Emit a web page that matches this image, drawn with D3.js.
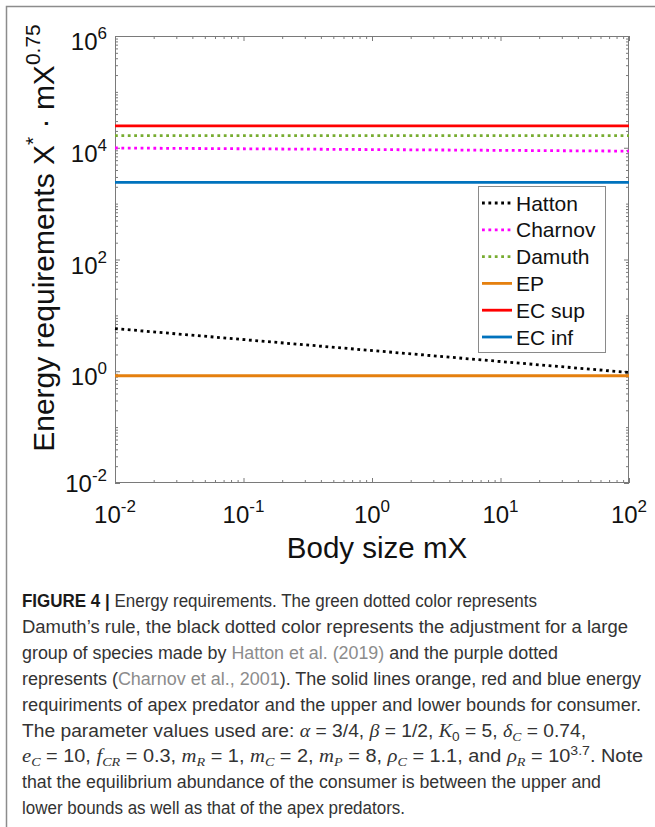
<!DOCTYPE html>
<html>
<head>
<meta charset="utf-8">
<script src="https://cdn.jsdelivr.net/npm/d3@7"></script>
<style>
  html, body { margin: 0; padding: 0; background: #fff; }
  svg { display: block; }
</style>
</head>
<body>
<svg id="chart" width="655" height="827"></svg>
<script>
// ---------------- data ----------------
const xEnds = [0.01, 100];                 // body size mX at both ends
const hattonVals  = [5.8, 0.95];
const charnovVals = [9900, 8700];
const damuthVals  = [16500, 16500];
const epVals      = [0.83, 0.83];
const ecSupVals   = [24700, 24700];
const ecInfVals   = [2400, 2400];

const seriesNames  = ["Hatton", "Charnov", "Damuth", "EP", "EC sup", "EC inf"];
const seriesColors = ["#000000", "#ff00ff", "#77ac30", "#e5800f", "#ff0000", "#0072bd"];
const seriesDotted = [true, true, true, false, false, false];
const seriesValues = [hattonVals, charnovVals, damuthVals, epVals, ecSupVals, ecInfVals];

const xTickVals = [1e-2, 1e-1, 1e0, 1e1, 1e2];
const xTickExp  = ["-2", "-1", "0", "1", "2"];
const yTickVals = [1e-2, 1e0, 1e2, 1e4, 1e6];
const yTickExp  = ["-2", "0", "2", "4", "6"];

// ---------------- layout ----------------
const svg = d3.select("#chart");
const L = 115, R = 629, T = 36, B = 483;
const x = d3.scaleLog().domain([1e-2, 1e2]).range([L, R]);
const y = d3.scaleLog().domain([1e-2, 1e6]).range([B, T]);
const axisColor = "#7a7a7a";
const font = "'Liberation Sans', Arial, Helvetica, sans-serif";

// page frame
svg.append("path").attr("d", "M6.5,827 L6.5,6.5 L655,6.5")
  .attr("fill", "none").attr("stroke", "#8c8c8c").attr("stroke-width", 1.5);

// minor tick values
const minorX = [], minorY = [];
for (let e = -2; e < 2; e++) for (let k = 2; k <= 9; k++) minorX.push(k * Math.pow(10, e));
for (let e = -2; e < 6; e++) for (let k = 2; k <= 9; k++) minorY.push(k * Math.pow(10, e));
const oddDecY = [1e-1, 1e1, 1e3, 1e5];
const minorYAll = minorY.concat(oddDecY);

function styleAxis(g) {
  g.select(".domain").remove();
  g.selectAll(".tick line").attr("stroke", axisColor).attr("stroke-width", 1);
  g.selectAll(".tick text").remove();
}
svg.append("g").attr("transform", `translate(0,${B})`)
  .call(d3.axisBottom(x).tickValues(xTickVals).tickSize(-5).tickFormat("")).call(styleAxis);
svg.append("g").attr("transform", `translate(0,${B})`)
  .call(d3.axisBottom(x).tickValues(minorX).tickSize(-3).tickFormat("")).call(styleAxis);
svg.append("g").attr("transform", `translate(0,${T})`)
  .call(d3.axisTop(x).tickValues(xTickVals).tickSize(-5).tickFormat("")).call(styleAxis);
svg.append("g").attr("transform", `translate(0,${T})`)
  .call(d3.axisTop(x).tickValues(minorX).tickSize(-3).tickFormat("")).call(styleAxis);
svg.append("g").attr("transform", `translate(${L},0)`)
  .call(d3.axisLeft(y).tickValues(yTickVals).tickSize(-5).tickFormat("")).call(styleAxis);
svg.append("g").attr("transform", `translate(${L},0)`)
  .call(d3.axisLeft(y).tickValues(minorYAll).tickSize(-3).tickFormat("")).call(styleAxis);
svg.append("g").attr("transform", `translate(${R},0)`)
  .call(d3.axisRight(y).tickValues(yTickVals).tickSize(-5).tickFormat("")).call(styleAxis);
svg.append("g").attr("transform", `translate(${R},0)`)
  .call(d3.axisRight(y).tickValues(minorYAll).tickSize(-3).tickFormat("")).call(styleAxis);

svg.append("rect").attr("x", L + 0.5).attr("y", T + 0.5)
  .attr("width", R - L - 1).attr("height", B - T - 1)
  .attr("fill", "none").attr("stroke", axisColor).attr("stroke-width", 1);

// series lines
const line = d3.line().x(d => x(d[0])).y(d => y(d[1]));
const plotG = svg.append("g");
seriesValues.forEach((vals, i) => {
  const pts = xEnds.map((xv, j) => [xv, vals[j]]);
  plotG.append("path").datum(pts).attr("d", line)
    .attr("fill", "none").attr("stroke", seriesColors[i])
    .attr("stroke-width", 2.8)
    .attr("stroke-dasharray", seriesDotted[i] ? "2.8,3.6" : null);
});
plotG.selectAll("path").filter((d, i) => !seriesDotted[i]).raise();

// tick labels
const xl = svg.append("g").attr("font-family", font).attr("fill", "#111");
xTickVals.forEach((v, i) => {
  const t = xl.append("text").attr("x", x(v)).attr("y", B + 40)
    .attr("text-anchor", "middle").attr("font-size", 24);
  t.append("tspan").text("10");
  t.append("tspan").attr("font-size", 17).attr("dy", -11).text(xTickExp[i]);
});
yTickVals.forEach((v, i) => {
  const t = xl.append("text").attr("x", L - 8).attr("y", y(v) + (i === 0 ? 9 : 14))
    .attr("text-anchor", "end").attr("font-size", 24);
  t.append("tspan").text("10");
  t.append("tspan").attr("font-size", 17).attr("dy", -11).text(yTickExp[i]);
});

// axis titles
svg.append("text").attr("x", (L + R) / 2 + 5).attr("y", 558)
  .attr("text-anchor", "middle").attr("font-family", font).attr("font-size", 29.5)
  .attr("fill", "#111").text("Body size mX");

const yt = svg.append("text")
  .attr("transform", `translate(54,238) rotate(-90)`)
  .attr("text-anchor", "middle").attr("font-family", font).attr("font-size", 30).attr("fill", "#111");
yt.append("tspan").text("Energy requirements X");
yt.append("tspan").attr("font-size", 21).attr("dy", -14).text("*");
yt.append("tspan").attr("dy", 14).text(" \u00b7 mX");
yt.append("tspan").attr("font-size", 21).attr("dy", -14).text("0.75");

// legend
const lg = svg.append("g");
lg.append("rect").attr("x", 478.5).attr("y", 186.5).attr("width", 127).attr("height", 166)
  .attr("fill", "#fff").attr("stroke", "#8a8a8a").attr("stroke-width", 1);
seriesNames.forEach((name, i) => {
  const cy = 203 + i * 26.8;
  lg.append("line").attr("x1", 482).attr("x2", 512).attr("y1", cy).attr("y2", cy)
    .attr("stroke", seriesColors[i]).attr("stroke-width", 2.8)
    .attr("stroke-dasharray", seriesDotted[i] ? "2.8,3.6" : null);
  lg.append("text").attr("x", 516).attr("y", cy + 7.5)
    .attr("font-family", font).attr("font-size", 21).attr("fill", "#111").text(name);
});

// ---------------- caption ----------------
const capFont = "'Liberation Sans', Arial, sans-serif";
const mathFont = "'Liberation Serif', 'Times New Roman', serif";
const capLines = [
  [["FIGURE 4 | ", "b"], ["Energy requirements. The green dotted color represents", "n"]],
  [["Damuth\u2019s rule, the black dotted color represents the adjustment for a large", "n"]],
  [["group of species made by ", "n"], ["Hatton et al. (2019)", "l"], [" and the purple dotted", "n"]],
  [["represents (", "n"], ["Charnov et al., 2001", "l"], ["). The solid lines orange, red and blue energy", "n"]],
  [["requiriments of apex predator and the upper and lower bounds for consumer.", "n"]],
  [["The parameter values used are: ", "n"], ["\u03b1", "i"], [" = 3/4, ", "n"], ["\u03b2", "i"], [" = 1/2, ", "n"],
   ["K", "i"], ["0", "sub"], [" = 5, ", "n"], ["\u03b4", "i"], ["C", "subi"], [" = 0.74,", "n"]],
  [["e", "i"], ["C", "subi"], [" = 10, ", "n"], ["f", "i"], ["CR", "subi"], [" = 0.3, ", "n"],
   ["m", "i"], ["R", "subi"], [" = 1, ", "n"], ["m", "i"], ["C", "subi"], [" = 2, ", "n"],
   ["m", "i"], ["P", "subi"], [" = 8, ", "n"], ["\u03c1", "i"], ["C", "subi"], [" = 1.1, and ", "n"],
   ["\u03c1", "i"], ["R", "subi"], [" = 10", "n"], ["3.7", "sup"], [". Note", "n"]],
  [["that the equilibrium abundance of the consumer is between the upper and", "n"]],
  [["lower bounds as well as that of the apex predators.", "n"]]
];
const capEnds = [537, 628, 558, 641, 641, 586, 643, 601, 405];
const capG = svg.append("g").attr("font-family", capFont).attr("font-size", 18.3).attr("fill", "#333");
capLines.forEach((segs, li) => {
  const t = capG.append("text").attr("x", 22).attr("y", 607 + li * 25.9)
    .attr("textLength", capEnds[li] - 22).attr("lengthAdjust", "spacingAndGlyphs");
  let shift = 0;
  segs.forEach(([s, st]) => {
    const sp = t.append("tspan").text(s);
    let target = 0;
    if (st === "b") sp.attr("font-weight", "bold").attr("fill", "#1a1a1a");
    if (st === "l") sp.attr("fill", "#8c8c8c");
    if (st === "i") sp.attr("font-family", mathFont).attr("font-style", "italic").attr("font-size", 19);
    if (st === "sub") { sp.attr("font-size", 13); target = 4; }
    if (st === "subi") { sp.attr("font-family", mathFont).attr("font-style", "italic").attr("font-size", 13); target = 4; }
    if (st === "sup") { sp.attr("font-size", 13); target = -7; }
    if (target !== shift) { sp.attr("dy", target - shift); shift = target; }
  });
});
</script>
</body>
</html>
